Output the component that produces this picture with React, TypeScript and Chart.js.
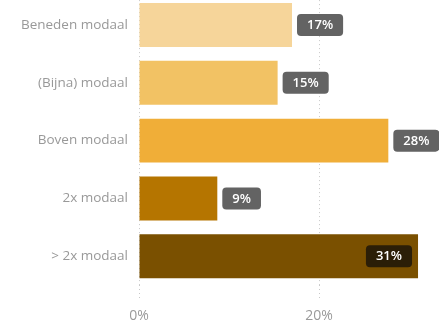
import React, { useEffect, useRef } from "react";
import { Chart, registerables } from "chart.js";

Chart.register(...registerables);

const categories = ["Beneden modaal", "(Bijna) modaal", "Boven modaal", "2x modaal", "> 2x modaal"];
const values = [17, 15.4, 27.7, 8.7, 31];
const valueLabels = ["17%", "15%", "28%", "9%", "31%"];
const barColors = ["#f6d59a", "#f2c264", "#f0ae38", "#b57500", "#7a5000"];
const xTicks = [0, 20];

const labelPlugin = {
  id: "valueBoxes",
  afterDatasetsDraw(chart: any) {
    const ctx = chart.ctx;
    const meta = chart.getDatasetMeta(0);
    ctx.save();
    ctx.font = "600 13px 'Open Sans', sans-serif";
    ctx.textBaseline = "middle";
    ctx.textAlign = "center";
    meta.data.forEach((bar: any, i: number) => {
      const text = valueLabels[i];
      const tw = ctx.measureText(text).width;
      const w = tw + 20;
      const h = 22;
      let x = bar.x + 5;
      let inside = false;
      if (x + w > chart.width + 2) {
        x = bar.x - 6 - w;
        inside = true;
      }
      const y = bar.y - h / 2;
      ctx.fillStyle = inside ? "#2b1e07" : "#636363";
      ctx.beginPath();
      (ctx as any).roundRect(x, y, w, h, 4);
      ctx.fill();
      ctx.fillStyle = "#ffffff";
      ctx.fillText(text, x + w / 2, bar.y + 0.5);
    });
    ctx.restore();
  },
};

export default function App() {
  const ref = useRef<HTMLCanvasElement>(null);
  useEffect(() => {
    if (!ref.current) return;
    const chart = new Chart(ref.current, {
      type: "bar",
      data: {
        labels: categories,
        datasets: [
          {
            data: values,
            backgroundColor: barColors,
            borderWidth: 0,
            barPercentage: 0.76,
            categoryPercentage: 1,
          },
        ],
      },
      options: {
        indexAxis: "y",
        animation: false,
        responsive: true,
        maintainAspectRatio: false,
        layout: { padding: 0 },
        plugins: { legend: { display: false }, tooltip: { enabled: false } },
        scales: {
          x: {
            min: 0,
            max: 33.33,
            afterBuildTicks: (scale: any) => {
              scale.ticks = xTicks.map((v) => ({ value: v }));
            },
            grid: {
              color: "#c8c8c8",
              tickLength: 15,
              tickBorderDash: [1, 3],
            } as any,
            border: { display: false, dash: [1, 3] },
            ticks: {
              color: "#9a9a9a",
              font: { family: "'Open Sans', sans-serif", size: 14 },
              padding: 7,
              callback: (v: any) => v + "%",
            },
          },
          y: {
            afterFit: (scale: any) => {
              scale.width = 139;
            },
            grid: { display: false, drawTicks: true, tickLength: 11 },
            border: { display: false },
            ticks: {
              color: "#999999",
              font: { family: "'Open Sans', sans-serif", size: 13.5 },
              padding: 0,
            },
          },
        },
      },
      plugins: [labelPlugin],
    });
    return () => chart.destroy();
  }, []);
  return (
    <div style={{ position: "fixed", left: 0, top: -12, width: 439, height: 343 }}>
      <canvas ref={ref} />
    </div>
  );
}
